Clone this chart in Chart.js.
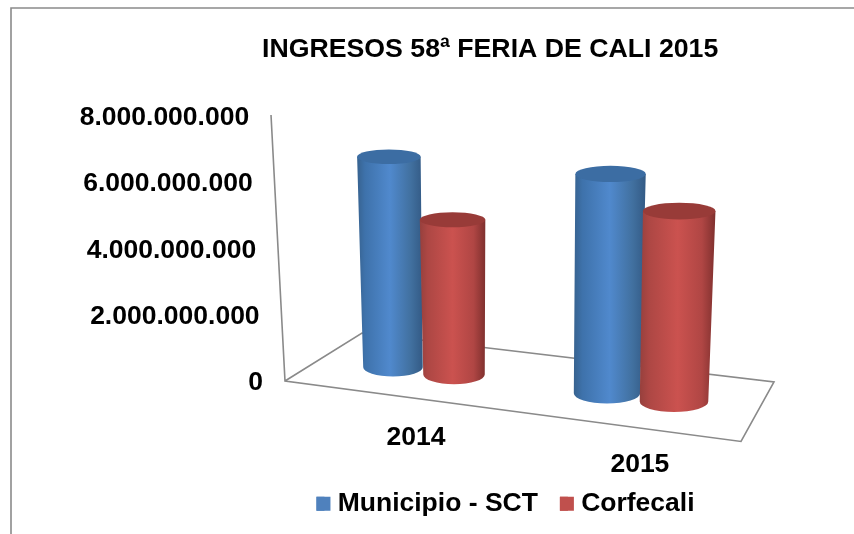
<!DOCTYPE html>
<html>
<head>
<meta charset="utf-8">
<script src="https://cdn.jsdelivr.net/npm/chart.js@4"></script>
<style>
  html, body { margin: 0; padding: 0; background: #fff; overflow: hidden; }
  canvas { display: block; }
</style>
</head>
<body>
<canvas id="grafico" width="854" height="534"></canvas>
<script>
const TITULO = 'INGRESOS 58ª FERIA DE CALI 2015';
const ANIOS = ['2014', '2015'];
const MUNICIPIO = [6365000000, 6635000000];
const CORFECALI = [4685000000, 5760000000];
const ETIQUETAS_Y = ['0', '2.000.000.000', '4.000.000.000', '6.000.000.000', '8.000.000.000'];

const FUENTE = 'Liberation Sans, Arial, sans-serif';
const GRIS = '#8a8a8a';

// Colores del cilindro: degradado lateral y tapa
const ESTILO = {
  Municipio: {
    tapa: '#3c6da3',
    lados: ['#37628f', '#3e72ab', '#5089cd', '#41709f', '#335a85'],
  },
  Corfecali: {
    tapa: '#983b38',
    lados: ['#96403d', '#ad4744', '#cb524f', '#b04644', '#7f302e'],
  },
};

// Piso y muro en falsa perspectiva
const muroX = y => 285 - (381 - y) * 0.0526;
const pisoY = (x, cero) => cero - 28.5 + 0.122 * (x - 285);

function dibujarCilindro(ctx, barra, centro, estilo, cero) {
  const alto = barra.base - barra.y;
  // los grupos se abren hacia la derecha, como en la vista 3D
  const bx = centro + (barra.x - centro) * (1 + (centro - 532) * 0.00043);
  const by = pisoY(bx, cero);
  const tx = bx + (bx - 510) * 0.035 * (alto / 210);
  const ty = by - alto;
  const brx = (barra.width / 2) * (1 + (bx - 533) * 0.0005);
  const trx = brx + 2;
  const bry = brx * 0.31;
  const tryy = trx * 0.23;

  const izq = Math.min(tx - trx, bx - brx);
  const der = Math.max(tx + trx, bx + brx);
  const grad = ctx.createLinearGradient(izq, 0, der, 0);
  [0, 0.12, 0.5, 0.82, 1].forEach((p, i) => grad.addColorStop(p, estilo.lados[i]));

  ctx.beginPath();
  ctx.moveTo(tx - trx, ty);
  ctx.lineTo(bx - brx, by);
  ctx.ellipse(bx, by, brx, bry, 0, Math.PI, 0, true);
  ctx.lineTo(tx + trx, ty);
  ctx.closePath();
  ctx.fillStyle = grad;
  ctx.fill();

  ctx.beginPath();
  ctx.ellipse(tx, ty, trx, tryy, 0, 0, Math.PI * 2);
  ctx.fillStyle = estilo.tapa;
  ctx.fill();
}

const perspectiva = {
  id: 'perspectiva',
  beforeDatasetsDraw(chart) {
    const { ctx, scales } = chart;
    ctx.save();
    ctx.strokeStyle = GRIS;
    ctx.lineWidth = 1.6;
    // marco exterior, se corta por la derecha y por abajo
    ctx.beginPath();
    ctx.moveTo(11, 534);
    ctx.lineTo(11, 8);
    ctx.lineTo(854, 8);
    ctx.stroke();
    // muro y piso
    ctx.beginPath();
    ctx.moveTo(muroX(115), 115);
    ctx.lineTo(285, 381);
    ctx.lineTo(741, 441.5);
    ctx.lineTo(774, 382);
    ctx.lineTo(362, 333);
    ctx.lineTo(285, 381);
    ctx.stroke();
    // los cilindros van aqui para que Corfecali quede delante de Municipio
    const cero = scales.y.getPixelForValue(0);
    chart.data.datasets.forEach((ds, i) => {
      chart.getDatasetMeta(i).data.forEach((el, j) => {
        const barra = el.getProps(['x', 'y', 'base', 'width'], true);
        dibujarCilindro(ctx, barra, scales.x.getPixelForTick(j), ESTILO[ds.clave], cero);
      });
    });
    ctx.restore();
  },
  beforeDatasetDraw() {
    return false;
  },
  afterDraw(chart) {
    const { ctx, scales } = chart;
    ctx.save();
    ctx.fillStyle = '#000';
    ctx.font = `bold 26.5px ${FUENTE}`;
    ctx.textBaseline = 'middle';
    // etiquetas del eje Y, siguen la inclinacion del muro
    ctx.textAlign = 'right';
    scales.y.ticks.forEach((t, i) => {
      const y = scales.y.getPixelForTick(i);
      ctx.fillText(t.label, muroX(y) - 22, y);
    });
    // etiquetas del eje X, siguen el borde del piso
    ctx.textAlign = 'center';
    scales.x.ticks.forEach((t, i) => {
      const x = scales.x.getPixelForTick(i);
      const xp = 660 + (x - 660) * 1.032;
      ctx.fillText(t.label, xp, 438 + 0.12 * (xp - 416));
    });
    // cuadritos de la leyenda, mas anchos que el hueco que deja Chart.js
    chart.legend.legendHitBoxes.forEach((h, i) => {
      ctx.fillStyle = chart.data.datasets[i].backgroundColor;
      ctx.fillRect(h.left, h.top + (h.height - 14) / 2, 14, 14);
    });
    ctx.restore();
  },
};

new Chart(document.getElementById('grafico'), {
  type: 'bar',
  data: {
    labels: ANIOS,
    datasets: [
      { clave: 'Municipio', label: 'Municipio - SCT', data: MUNICIPIO, backgroundColor: '#4F81BD' },
      { clave: 'Corfecali', label: 'Corfecali', data: CORFECALI, backgroundColor: '#C0504D' },
    ],
  },
  options: {
    responsive: false,
    animation: false,
    events: [],
    layout: { padding: { left: 262, right: 105, top: 0, bottom: 7 } },
    datasets: { bar: { categoryPercentage: 0.59, barPercentage: 1 } },
    scales: {
      x: {
        grid: { display: false },
        border: { display: false },
        ticks: { display: false },
        afterFit: s => { s.height = 86; },
      },
      y: {
        min: 0,
        max: 8000000000,
        grid: { display: false },
        border: { display: false },
        ticks: { display: false, stepSize: 2000000000, callback: (v, i) => ETIQUETAS_Y[i] },
        afterFit: s => { s.width = 53; },
      },
    },
    plugins: {
      title: {
        display: true,
        text: TITULO,
        align: 'start',
        color: '#000',
        font: { family: FUENTE, size: 26.7, weight: 'bold' },
        padding: { top: 34, bottom: 52 },
      },
      legend: {
        position: 'bottom',
        labels: {
          boxWidth: 8,
          boxHeight: 14,
          padding: 22,
          color: '#000',
          font: { family: FUENTE, size: 26.5, weight: 'bold' },
        },
      },
      tooltip: { enabled: false },
    },
  },
  plugins: [perspectiva],
});
</script>
</body>
</html>
